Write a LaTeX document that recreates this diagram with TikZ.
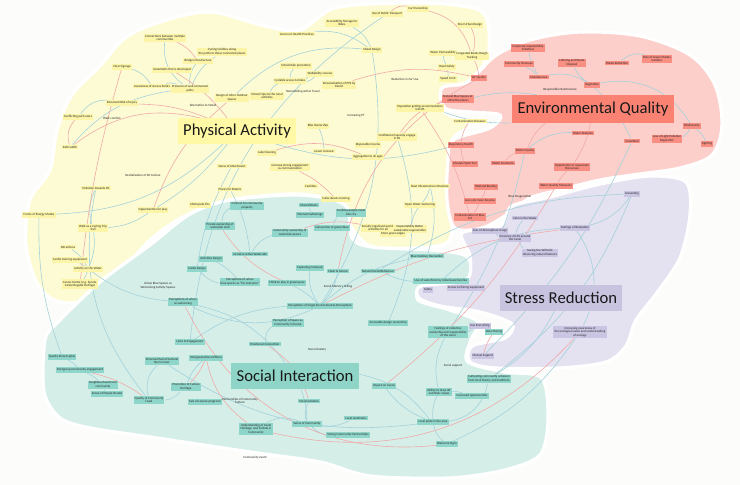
\documentclass[tikz,border=0pt]{standalone}
\usepackage{fontspec}
\setmainfont{Carlito}
\definecolor{bgc}{HTML}{FCFCFA}
\definecolor{yblob}{HTML}{FDFBD3}
\definecolor{rblob}{HTML}{FCCFCB}
\definecolor{pblob}{HTML}{E4E1F0}
\definecolor{tblob}{HTML}{D6EEE8}
\definecolor{ynf}{HTML}{FCF5A8}
\definecolor{rnf}{HTML}{F98E82}
\definecolor{pnf}{HTML}{C9C5E3}
\definecolor{tnf}{HTML}{8FD6CA}
\definecolor{ylab}{HTML}{FFF9A5}
\definecolor{rlab}{HTML}{F98273}
\definecolor{plab}{HTML}{C8C4E0}
\definecolor{tlab}{HTML}{8FD5C7}
\definecolor{tline}{HTML}{A3D2DB}
\definecolor{rline}{HTML}{F1AAAA}
\pgfdeclarelayer{blobs}
\pgfdeclarelayer{edges}
\pgfsetlayers{blobs,edges,main}
\tikzset{
  sn/.style={font=\fontsize{2.4}{2.8}\selectfont, inner sep=0.9pt, align=center, text=black!85},
  yn/.style={sn, fill=ynf},
  rn/.style={sn, fill=rnf},
  pn/.style={sn, fill=pnf},
  tn/.style={sn, fill=tnf},
  pl/.style={sn},
  lab/.style={font=\fontsize{12.5}{14}\selectfont, inner sep=0pt, text=black!90},
  tl/.style={draw=tline, line width=0.45pt},
  rl/.style={draw=rline, line width=0.45pt},
  blob/.style={draw=white, line width=2.5pt}
}
\begin{document}
\begin{tikzpicture}[x=0.75pt, y=-0.75pt]
\useasboundingbox (0,0) rectangle (740,485);
\begin{pgfonlayer}{blobs}
\fill[bgc] (0,0) rectangle (740,485);
% yellow blob
\filldraw[fill=yblob, blob] plot[smooth cycle, tension=0.55] coordinates {
 (100,66) (125,38) (160,22) (210,12) (265,26) (300,30) (335,8) (400,3) (455,5) (485,15) (488,55)
 (470,80) (448,92) (445,112) (470,125) (452,140) (450,180) (452,215) (448,242) (415,248) (370,246)
 (348,222) (340,204) (300,194) (230,200) (185,216) (150,240) (125,268) (95,298) (60,302) (38,285)
 (26,245) (30,200) (50,170) (57,130) (72,95)};
% teal blob
\filldraw[fill=tblob, blob] plot[smooth cycle, tension=0.5] coordinates {
 (58,322) (100,282) (150,245) (190,214) (230,200) (300,195) (345,205) (352,238) (372,247) (430,250)
 (466,256) (470,278) (425,284) (418,300) (450,310) (478,322) (470,342) (468,362) (505,372) (542,378)
 (548,420) (540,455) (505,470) (450,478) (370,476) (320,462) (250,452) (150,437) (90,428) (60,418)
 (44,392) (45,340)};
% red blob
\filldraw[fill=rblob, blob] plot[smooth cycle, tension=0.55] coordinates {
 (442,88) (468,82) (495,56) (530,40) (580,32) (640,36) (690,55) (715,85) (722,125) (712,155)
 (680,168) (640,174) (600,180) (560,190) (530,198) (508,214) (482,228) (455,228) (447,200)
 (448,160) (453,140) (490,128) (500,115) (470,112) (445,108)};
% purple blob
\filldraw[fill=pblob, blob] plot[smooth cycle, tension=0.5] coordinates {
 (462,233) (500,226) (512,206) (550,197) (600,184) (650,176) (686,182) (690,215) (680,258)
 (656,294) (636,320) (626,346) (606,362) (560,368) (495,368) (470,362) (472,346) (505,338)
 (512,324) (480,312) (440,306) (419,298) (421,286) (466,280) (470,256)};
\end{pgfonlayer}

% ---------------- yellow nodes
\node[yn] (y1) at (165,38) {Connections between multiple\\communities};
\node[yn] (y2) at (122,67) {Clear Signage};
\node[yn] (y3) at (172,70) {Greenbelts that is developed};
\node[yn] (y4) at (152,86) {Awareness of Access Points};
\node[yn] (y5) at (122,103) {Perceived Risk of Injury};
\node[yn] (y6) at (78,117) {Conflicting path users};
\node[pl] (yp1) at (112,118) {Walk comfort};
\node[yn] (y7) at (70,147) {Path width};
\node[yn] (y8) at (342,23) {Accessibility Storage for\\Bikes};
\node[yn] (y9) at (297,34) {Access to Health Practices};
\node[yn] (y10) at (372,50) {Street Design};
\node[yn] (y11) at (222,52) {Cycling facilities along\\the paths to those connected places};
\node[yn] (y12) at (198,61) {Bridge infrastructure};
\node[yn] (y13) at (190,89) {Presence of well-connected\\paths};
\node[yn] (y14) at (232,98) {Design of other Outdoor\\Spaces};
\node[pl] (yp2) at (203,105) {Alternative to Street};
\node[yn] (y15) at (296,66) {School bike promotion};
\node[yn] (y16) at (320,74) {Walkability courses};
\node[yn] (y17) at (290,81) {Cyclable access to bikes};
\node[yn] (y18) at (339,85) {Personalisation of PPS by\\transit};
\node[yn] (y19) at (267,96) {School trips to the canal\\activities};
\node[pl] (yp3) at (303,92) {Remodelling Active Travel};
\node[pl] (yp4) at (356,116) {Increasing PT};
\node[yn] (y20) at (318,126) {Bike Ownership};
\node[yn] (y21) at (267,153) {Lake Cleaning};
\node[yn] (y22) at (324,151) {Lower to levels};
\node[yn] (y23) at (368,145) {Disposable Income};
\node[yn] (y24) at (368,157) {Aggregation to all ages};
\node[yn] (y25) at (418,9) {Car Ownership};
\node[yn] (y26) at (387,14) {Use of Public Transport};
\node[yn] (y27) at (470,25) {Poor Urban Design};
\node[yn] (y28) at (443,53) {Water Permeability};
\node[yn] (y29) at (472,56) {Congested Roads Rough\\Tracking};
\node[yn] (y30) at (447,67) {Road Safety};
\node[yn] (y31) at (448,79) {Speed Limit};
\node[pl] (yp5) at (405,79) {Reduction in Car Use};
\node[yn] (y32) at (420,108) {Population getting accommodation\\into PA};
\node[yn] (y33) at (470,121) {Contamination Diseases};
\node[yn] (y34) at (397,137) {Confidence/Capacity engage\\in PA};
\node[pl] (yp6) at (143,175) {Revitalisation of PA Culture};
\node[yn] (y35) at (39,215) {Forms of Energy Modes};
\node[yn] (y36) at (96,188) {Pollution towards PA};
\node[yn] (y37) at (153,210) {Opportunities for play};
\node[yn] (y38) at (93,228) {Walk as a Cycling Trip\\Trail};
\node[yn] (y39) at (68,247) {Attractions};
\node[yn] (y40) at (70,260) {Cardio training equipment};
\node[yn] (y41) at (88,269) {Activity on the Water};
\node[yn] (y42) at (80,284) {Canoe Centre (e.g. Sports,\\Canoe Regatta Outings)};
\node[yn] (y43) at (232,166) {Sense of Attachment};
\node[yn] (y44) at (290,167) {Increase strong engagement\\as communication};
\node[yn] (y45) at (230,189) {Places for Skaters};
\node[yn] (y46) at (311,186) {Facilities};
\node[yn] (y47) at (200,205) {Metropolis Fits};
\node[yn] (y48) at (336,199) {Cafes about mooring};
\node[yn] (y49) at (378,228) {Socially organised events\\activities for all};
\node[yn] (y50) at (430,186) {Boat Infrastructure Structure};
\node[yn] (y51) at (420,205) {Open Water Swimming};
\node[yn] (y52) at (410,229) {Dependability Better\\sustainable regeneration};
\node[yn] (y53) at (393,234) {More green edges};

% ---------------- red nodes
\node[rn] (r1) at (528,48) {Corporate responsibility\\initiatives};
\node[rn] (r2) at (519,64) {Community Cleanups};
\node[rn] (r3) at (539,77) {Maintenance};
\node[rn] (r4) at (572,63) {Littering and Waste\\Disposal};
\node[rn] (r5) at (617,63) {Waste Reduction};
\node[rn] (r6) at (657,59) {Role of Green Shades\\Gardens};
\node[rn] (r7) at (592,85) {Vegetation};
\node[pl] (rp1) at (560,90) {Responsible Maintenance};
\node[rn] (r8) at (479,78) {Air Quality};
\node[rn] (r9) at (458,99) {Natural Blue Spaces at\\attractive places};
\node[rn] (r10) at (461,145) {Respiratory Health};
\node[rn] (r11) at (525,151) {Water Quality};
\node[rn] (r12) at (692,126) {Biodiversity};
\node[rn] (r13) at (583,133) {Water Features};
\node[rn] (r14) at (632,141) {Canal Bed};
\node[rn] (r15) at (667,139) {Less of Light Pollution\\Regulation};
\node[rn] (r16) at (707,144) {Lighting};
\node[rn] (r17) at (486,187) {Wetland Boating};
\node[rn] (r18) at (480,201) {Less cars more bicycles};
\node[rn] (r19) at (470,217) {Contamination of Blue\\Art};
\node[rn] (r20) at (556,186) {Water Quality Measures};
\node[rn] (r21) at (572,167) {Opportunity to rejuvenate\\the senses};
\node[rn] (r22) at (465,164) {Lifestyle Sport Fun};
\node[rn] (r23) at (503,163) {Water Fountains};

% ---------------- purple nodes
\node[pl] (pp1) at (520,197) {Blue Oxygenation};
\node[pn] (p1) at (525,218) {Calm in the Water};
\node[pn] (p2) at (490,231) {Loss of Atmosphere Usage};
\node[pn] (p3) at (515,238) {Presence of Life around\\the Canal};
\node[pn] (p4) at (540,253) {Seeing the Wild Life\\observing natural features};
\node[pn] (p5) at (428,290) {Safety};
\node[pn] (p6) at (466,288) {Access to fishing equipment};
\node[pn] (p7) at (632,194) {Grounding};
\node[pn] (p8) at (575,228) {Feelings of Relaxation};
\node[pn] (p9) at (483,356) {Mutual Support};
\node[pn] (p10) at (480,326) {Use Everything};
\node[pn] (p11) at (580,332) {Increasing awareness of\\the ecological value and understanding\\of ecology};

% ---------------- teal nodes
\node[tn] (t1) at (247,206) {Connect for community\\property};
\node[tn] (t2) at (309,205) {Shared Boats};
\node[tn] (t3) at (351,213) {Facilities people meet\\into city};
\node[tn] (t4) at (310,215) {Planned Gatherings};
\node[tn] (t5) at (220,226) {Private ownership of\\waterside land};
\node[tn] (t6) at (290,233) {Community ownership of\\waterside spaces};
\node[tn] (t7) at (332,228) {Connection to green/blue};
\node[tn] (t8) at (250,254) {Inclusive active Waterside};
\node[tn] (t9) at (211,259) {Activities Design};
\node[tn] (t10) at (310,268) {Capturing Company};
\node[tn] (t11) at (338,271) {Clean \& Secure};
\node[tn] (t12) at (197,269) {Inside Design};
\node[tn] (t13) at (240,282) {Perceptions of urban\\blue spaces as ``for everyone''};
\node[tn] (t14) at (287,283) {Children play in greenspace};
\node[pl] (tp1) at (338,287) {Social Memory Telling};
\node[tn] (t15) at (320,306) {Perceptions of Single Environmental Atmosphere};
\node[tn] (t16) at (288,323) {Perception of Space as\\Community Inclusive};
\node[tn] (t17) at (183,302) {Perceptions of urban\\as welcoming};
\node[tn] (t18) at (378,271) {Natural Social Behaviour};
\node[tn] (t19) at (427,256) {Blue Outdoor Recreation};
\node[tn] (t20) at (441,281) {Use of waterfront by individuals/families};
\node[tn] (t21) at (62,357) {Quality Street Lights};
\node[tn] (t22) at (80,370) {Intergroup community engagement};
\node[tn] (t23) at (103,385) {Neighbourhood local\\community};
\node[tn] (t24) at (107,394) {Sense of People Shared};
\node[tn] (t25) at (149,400) {Quality of Community\\Lived};
\node[tn] (t26) at (162,361) {Perceived Social/Cultural\\Norm Cover};
\node[tn] (t27) at (186,387) {Promotion of Culture\\Heritage};
\node[tn] (t28) at (190,342) {Links to Engagement};
\node[tn] (t30) at (265,344) {Emotional Connection};
\node[pl] (tp2) at (317,350) {Social Anxiety};
\node[tn] (t31) at (206,358) {Intergenerational Effects};
\node[tn] (t32) at (205,402) {Sale of Leisure programs};
\node[pl] (tp3) at (240,401) {Partnerships of Community\\Culture};
\node[tn] (t33) at (309,401) {Social Isolation};
\node[tn] (t34) at (256,429) {Understanding of Canal\\Heritage, and its Role in\\Community};
\node[tn] (t35) at (307,424) {Sense of Community};
\node[tn] (t36) at (356,418) {Local landmarks};
\node[tn] (t37) at (348,435) {Strong Community Partnerships};
\node[pl] (tp4) at (255,458) {Community event};
\node[tn] (t38) at (448,332) {Feelings of collective\\ownership and responsibility\\of the canal};
\node[tn] (t39) at (494,332) {Data Sharing};
\node[pl] (tp5) at (453,366) {Social support};
\node[tn] (t40) at (489,379) {Cultivating community cohesion\\from local history and traditions};
\node[tn] (t41) at (384,386) {Impact on Locals};
\node[tn] (t42) at (439,392) {Ability to draw off\\and their values};
\node[tn] (t43) at (472,396) {Increased opportunities};
\node[tn] (t44) at (433,422) {Local pride in the area};
\node[tn] (t45) at (447,444) {Welcome Signs};
\node[tn] (t46) at (388,323) {Accessible design ownership};
\node[pl] (tp6) at (158,286) {Urban Blue Spaces as\\Welcoming Activity Spaces};

% ---------------- main labels
\node[lab, fill=ylab, minimum width=89pt, minimum height=19pt] (L1) at (237,131) {Physical Activity};
\node[lab, fill=rlab, minimum width=122pt, minimum height=21pt] (L2) at (593,109) {Environmental Quality};
\node[lab, fill=plab, minimum width=91pt, minimum height=19pt] (L3) at (561,298) {Stress Reduction};
\node[lab, fill=tlab, minimum width=96pt, minimum height=20pt] (L4) at (295,376) {Social Interaction};

\begin{pgfonlayer}{edges}
% connectors (teal)
\draw[tl] (y2) to[bend left=20] (y4);
\draw[tl] (y1) to[bend right=30] (y13);
\draw[tl] (y6) to[bend left=30] (y5);
\draw[tl] (y4) to[bend left=15] (y13);
\draw[tl] (y12) to[bend right=20] (y13);
\draw[tl] (y11) to[bend right=15] (y13);
\draw[tl] (y9) to[bend left=20] (y10);
\draw[tl] (y8) to[bend left=20] (y10);
\draw[tl] (y15) to[bend right=20] (y17);
\draw[tl] (y16) to[bend left=15] (y17);
\draw[tl] (y17) to[bend right=20] (y19);
\draw[tl] (y10) to[bend right=25] (y14);
\draw[tl] (y10) to[bend left=20] (t15);
\draw[tl] (y26) to[bend right=25] (t28);
\draw[tl] (y28) to[bend right=10] (y30);
\draw[tl] (y30) to[bend left=10] (y31);
\draw[tl] (y35) to[bend right=10] (t21);
\draw[tl] (y36) to[bend right=20] (y38);
\draw[tl] (y38) to[bend left=15] (y41);
\draw[tl] (y39) to[bend left=15] (y41);
\draw[tl] (y40) to[bend left=10] (y41);
\draw[tl] (y41) to[bend left=10] (y42);
\draw[tl] (y38) to[bend right=15] (y37);
\draw[tl] (y41) to[bend right=15] (t17);
\draw[tl] (y36) to[bend right=25] (t25);
\draw[tl] (y13) to[bend right=20] (y7);
\draw[tl] (L1) to[bend left=10] (y37);
\draw[tl] (L1) to[bend right=15] (r10);
\draw[tl] (L1) to[bend left=20] (y35);
\draw[tl] (y20) to[bend left=10] (y22);
\draw[tl] (y34) to[bend left=20] (t46);
\draw[tl] (y32) to[bend right=10] (L2);
\draw[tl] (r9) to[bend left=10] (L2);
\draw[tl] (r1) to[bend right=10] (r3);
\draw[tl] (r2) to[bend left=10] (r3);
\draw[tl] (r3) to[bend left=20] (r7);
\draw[tl] (r4) to[bend right=15] (r7);
\draw[tl] (r5) to[bend left=25] (r6);
\draw[tl] (r7) to[bend left=35] (r12);
\draw[tl] (r12) to[bend left=20] (r15);
\draw[tl] (r12) to[bend left=15] (r16);
\draw[tl] (r7) to[bend left=10] (r14);
\draw[tl] (r13) to[bend right=20] (r11);
\draw[tl] (p1) to[bend right=15] (p3);
\draw[tl] (p2) to[bend right=10] (p3);
\draw[tl] (p3) to[bend right=15] (p4);
\draw[tl] (p8) to[bend right=20] (p7);
\draw[tl] (p8) to[bend left=30] (p11);
\draw[tl] (p8) to[bend right=20] (t20);
\draw[tl] (p7) to[bend left=15] (t40);
\draw[tl] (p7) to[bend right=15] (t18);
\draw[tl] (r14) to[bend left=10] (p9);
\draw[tl] (r11) to[bend left=10] (t38);
\draw[tl] (t21) to[bend left=10] (t22);
\draw[tl] (t22) to[bend left=10] (t23);
\draw[tl] (t23) to[bend right=10] (t24);
\draw[tl] (t26) to[bend right=30] (t25);
\draw[tl] (t25) to[bend right=20] (t27);
\draw[tl] (t27) to[bend left=15] (t31);
\draw[tl] (t1) to[bend right=30] (t5);
\draw[tl] (t2) to[bend left=10] (t4);
\draw[tl] (t3) to[bend right=20] (t7);
\draw[tl] (t6) to[bend right=20] (t8);
\draw[tl] (t13) to[bend left=20] (t12);
\draw[tl] (t13) to[bend right=10] (t9);
\draw[tl] (t15) to[bend right=10] (t14);
\draw[tl] (t15) to[bend left=20] (t10);
\draw[tl] (t15) to[bend right=15] (t11);
\draw[tl] (t15) to[bend left=25] (t17);
\draw[tl] (t15) to[bend left=15] (t19);
\draw[tl] (t16) to[bend right=30] (t30);
\draw[tl] (t35) to[bend left=20] (t33);
\draw[tl] (t35) to[bend right=15] (t36);
\draw[tl] (t35) to[bend right=15] (t37);
\draw[tl] (t34) to[bend left=25] (t35);
\draw[tl] (t38) to[bend right=20] (t42);
\draw[tl] (t42) to[bend right=15] (t44);
\draw[tl] (t44) to[bend right=20] (t45);
\draw[tl] (t44) to[bend left=15] (t41);
\draw[tl] (t42) to[bend left=10] (t43);
\draw[tl] (t44) to[bend right=35] (t40);
\draw[tl] (t44) to[bend left=20] (t26);
\draw[tl] (t40) to[bend right=15] (L3);
\draw[tl] (t20) to[bend left=10] (t18);
\draw[tl] (p10) to[bend left=10] (t38);
\draw[tl] (p11) to[bend left=15] (t45);
\draw[tl] (t19) to[bend right=15] (y50);
\draw[tl] (y51) to[bend right=15] (y50);
\draw[tl] (y52) to[bend left=10] (y51);
\draw[tl] (t28) to[bend left=15] (t15);
\draw[tl] (L4) to[bend right=20] (t17);
\draw[tl] (L4) to[bend left=20] (t44);
\draw[tl] (L4) to[bend left=10] (t35);
\draw[tl] (y45) to[bend left=10] (t8);
\draw[tl] (y43) to[bend right=10] (t12);
% connectors (red)
\draw[rl] (y25) to[bend right=25] (y26);
\draw[rl] (y25) to[bend left=30] (y29);
\draw[rl] (y27) to[bend left=20] (y29);
\draw[rl] (y29) to[bend left=10] (r8);
\draw[rl] (y5) to[bend left=10] (L1);
\draw[rl] (y7) to[bend left=25] (L1);
\draw[rl] (y6) to[bend right=30] (y7);
\draw[rl] (y2) to[bend right=5] (y42);
\draw[rl] (y1) to[bend left=15] (y12);
\draw[rl] (y3) to[bend left=10] (L1);
\draw[rl] (y18) to[bend left=15] (r8);
\draw[rl] (y32) to[bend left=10] (r19);
\draw[rl] (y33) to[bend right=15] (r10);
\draw[rl] (r10) to[bend right=10] (r22);
\draw[rl] (r17) to[bend left=10] (r18);
\draw[rl] (r18) to[bend left=10] (r19);
\draw[rl] (r21) to[bend right=10] (r20);
\draw[rl] (r23) to[bend left=15] (r11);
\draw[rl] (L2) to[bend right=15] (r11);
\draw[rl] (L2) to[bend left=10] (r21);
\draw[rl] (r8) to[bend right=25] (t11);
\draw[rl] (r9) to[bend right=20] (y34);
\draw[rl] (y14) to[bend right=15] (y37);
\draw[rl] (y21) to[bend left=20] (y24);
\draw[rl] (y44) to[bend left=10] (y48);
\draw[rl] (t17) to[bend right=35] (t45);
\draw[rl] (t31) to[bend right=20] (t34);
\draw[rl] (t30) to[bend left=20] (t33);
\draw[rl] (t27) to[bend right=10] (t31);
\draw[rl] (t5) to[bend right=15] (t14);
\draw[rl] (t22) to[bend left=10] (t25);
\draw[rl] (p11) to[bend left=30] (t34);
\draw[rl] (p9) to[bend left=10] (t39);
\draw[rl] (r20) to[bend left=10] (t41);
\draw[rl] (p8) to[bend right=10] (t15);
\draw[rl] (y49) to[bend right=15] (t6);
\end{pgfonlayer}
\end{tikzpicture}
\end{document}
